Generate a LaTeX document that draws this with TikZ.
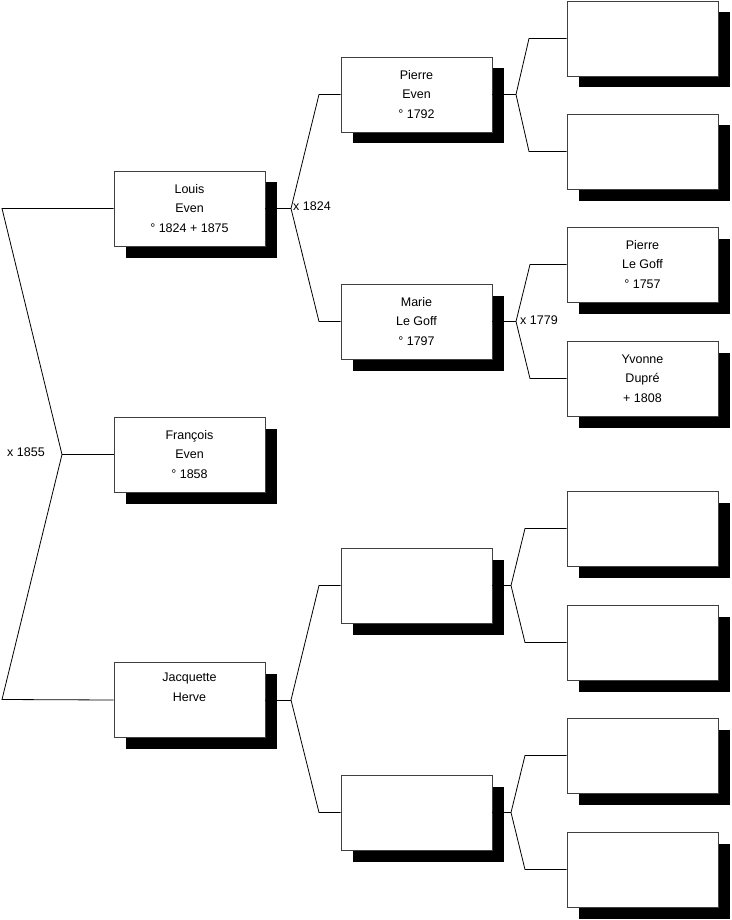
\documentclass[tikz,border=0pt]{standalone}
\usepackage{fontspec}
\setmainfont{Liberation Sans}
\usetikzlibrary{shadows}
\tikzset{
  person/.style={draw=black!75, fill=white, line width=0.8pt,
    minimum width=151pt, minimum height=75pt, inner sep=0pt,
    align=center, font=\fontsize{12.5}{19.5}\selectfont,
    drop shadow={shadow xshift=11.5pt, shadow yshift=-11.5pt, fill=black, opacity=1, draw=none}},
  link/.style={draw=black, line width=0.8pt},
  marr/.style={anchor=west, inner sep=0pt, font=\fontsize{12.5}{15}\selectfont}
}
\begin{document}
\begin{tikzpicture}[x=1pt,y=-1pt]
\useasboundingbox (0,0) rectangle (731,920);
% fork points
\coordinate (fa) at (62,454.5);
\coordinate (fa1) at (2,208.5);
\coordinate (fa2) at (2,699.5);
\coordinate (fb) at (291,208.5);
\coordinate (fb1) at (319,94.5);
\coordinate (fb2) at (319,321.5);
\coordinate (fc) at (291,700);
\coordinate (fc1) at (319,585.5);
\coordinate (fc2) at (319,812.5);
\coordinate (fd) at (516,94.5);
\coordinate (fd1) at (529,38.5);
\coordinate (fd2) at (529,151.5);
\coordinate (fe) at (516,321.5);
\coordinate (fe1) at (530,264.5);
\coordinate (fe2) at (530,378.5);
\coordinate (ff) at (511,585.5);
\coordinate (ff1) at (525,528.5);
\coordinate (ff2) at (525,642.5);
\coordinate (fg) at (511,812.5);
\coordinate (fg1) at (525,755.5);
\coordinate (fg2) at (525,869.5);
% boxes
\node[person] (louis) at (189.5,208.5) {Louis\\Even\\° 1824 + 1875};
\node[person] (francois) at (189.5,454.5) {François\\Even\\° 1858};
\node[person] (jacq) at (189.5,700) {Jacquette\\Herve\\\strut};
\node[person] (pierre) at (416.5,94.5) {Pierre\\Even\\° 1792};
\node[person] (marie) at (416.5,321.5) {Marie\\Le Goff\\° 1797};
\node[person] (b23) at (416.5,585.5) {};
\node[person] (b24) at (416.5,812.5) {};
\node[person] (c1) at (642.5,38.5) {};
\node[person] (c2) at (642.5,151.5) {};
\node[person] (pierrelg) at (642.5,264.5) {Pierre\\Le Goff\\° 1757};
\node[person] (yvonne) at (642.5,378.5) {Yvonne\\Dupré\\+ 1808};
\node[person] (c5) at (642.5,528.5) {};
\node[person] (c6) at (642.5,642.5) {};
\node[person] (c7) at (642.5,755.5) {};
\node[person] (c8) at (642.5,869.5) {};
% connectors
\draw[link] (louis.west) -- (fa1) -- (fa) -- (fa2) -- (jacq.west);
\draw[link] (fa) -- (francois.west);
\draw[link] (louis.east) -- (fb);
\draw[link] (pierre.west) -- (fb1) -- (fb) -- (fb2) -- (marie.west);
\draw[link] (jacq.east) -- (fc);
\draw[link] (b23.west) -- (fc1) -- (fc) -- (fc2) -- (b24.west);
\draw[link] (pierre.east) -- (fd);
\draw[link] (c1.west) -- (fd1) -- (fd) -- (fd2) -- (c2.west);
\draw[link] (marie.east) -- (fe);
\draw[link] (pierrelg.west) -- (fe1) -- (fe) -- (fe2) -- (yvonne.west);
\draw[link] (b23.east) -- (ff);
\draw[link] (c5.west) -- (ff1) -- (ff) -- (ff2) -- (c6.west);
\draw[link] (b24.east) -- (fg);
\draw[link] (c7.west) -- (fg1) -- (fg) -- (fg2) -- (c8.west);
% marriage labels
\node[marr] (m1855) at (7,452) {x 1855};
\node[marr] (m1824) at (293,206.5) {x 1824};
\node[marr] (m1779) at (520,320) {x 1779};
\end{tikzpicture}
\end{document}
